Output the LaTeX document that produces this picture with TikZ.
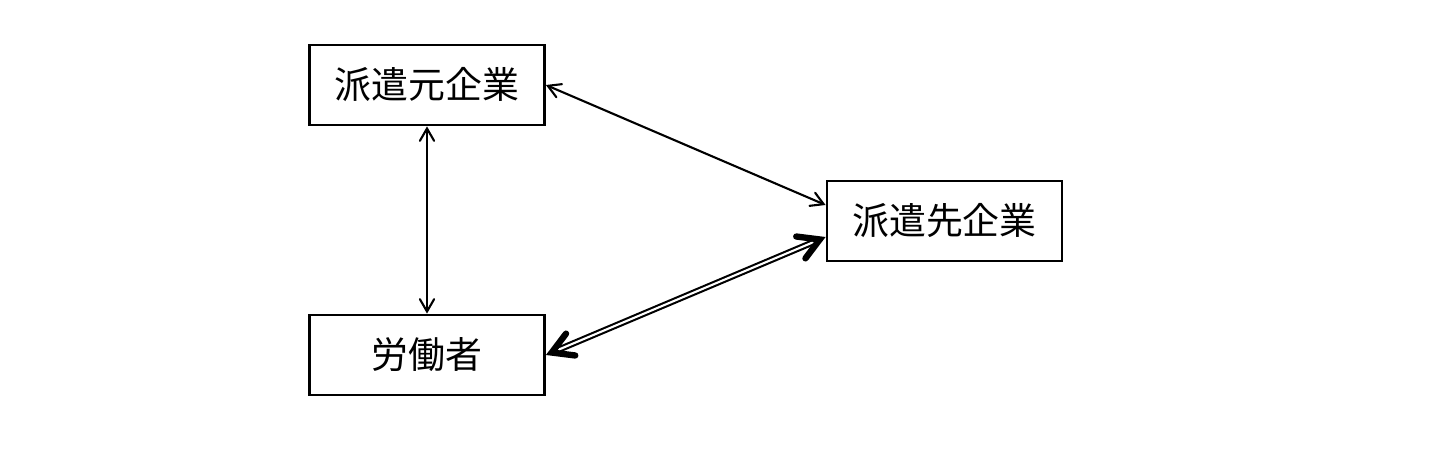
\documentclass[tikz,border=0pt]{standalone}
\usepackage{fontspec}
\setmainfont{Noto Sans CJK JP}
\usepackage{tikz}
\usetikzlibrary{arrows, positioning}

\begin{document}
\begin{tikzpicture}[<->, >=angle 60, semithick]
        \tikzstyle{firm}=[draw=black, thick, minimum width=2.35cm, minimum height=0.8cm, font=\fontsize{10.5pt}{12pt}\selectfont]
        \useasboundingbox (0,0) rectangle (14.54,4.5);
        \node[firm]    (moto)   at (4.27,3.65)   {派遣元企業};
        \node[firm]    (saki)   at (9.445,2.29)  {派遣先企業};
        \node[firm]    (rodo)   at (4.27,0.95)   {労働者};
        \draw (moto.east) -- ([yshift=0.16cm]saki.west);
        \draw (moto.south) -- (rodo.north);
        \draw[double, double distance=0.6pt] ([yshift=-0.16cm]saki.west) -- (rodo.east);
\end{tikzpicture}
\end{document}
